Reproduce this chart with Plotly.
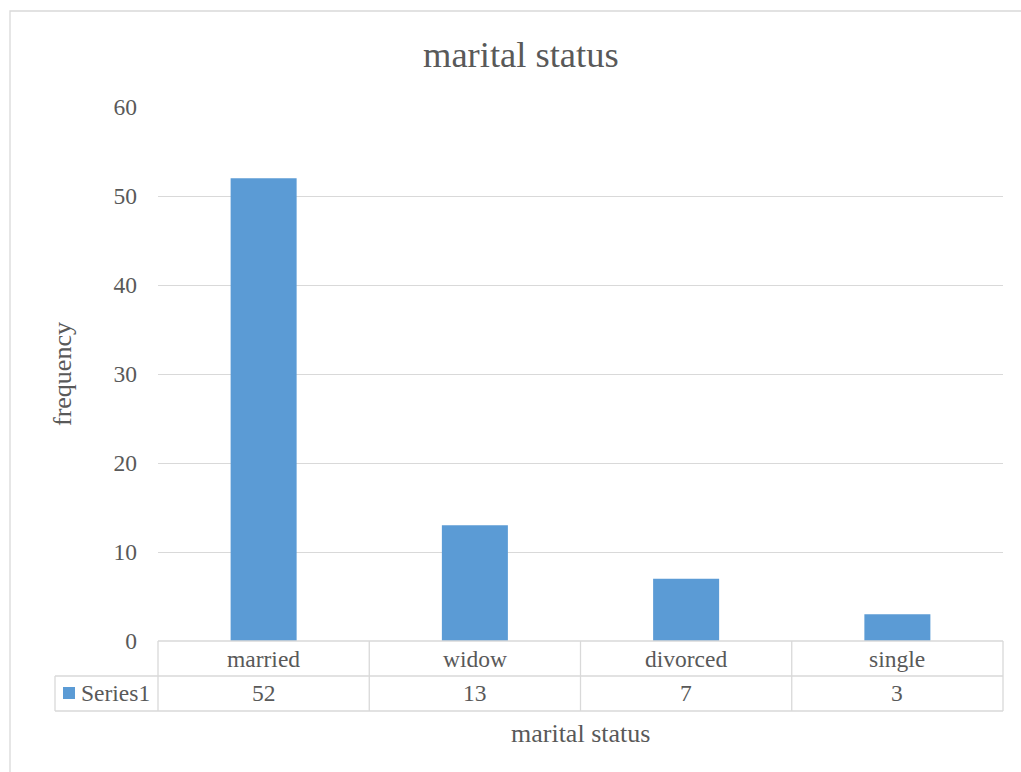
import plotly.graph_objects as go

# Chart data
categories = ["married", "widow", "divorced", "single"]
frequency = [52, 13, 7, 3]
series_name = "Series1"
y_ticks = [0, 10, 20, 30, 40, 50, 60]

# Canvas and plot-area geometry (pixels)
FIG_W, FIG_H = 1021, 772
PL, PR, PT, PB = 158, 1003, 107, 641
PW, PH = PR - PL, PB - PT

BAR_COLOR = "#5b9bd5"
GRID = "#d9d9d9"
TEXT = "#595959"
FONT = "Liberation Serif"


def xp(px):
    return (px - PL) / PW


def yp(py):
    return (PB - py) / PH


fig = go.Figure(
    go.Bar(
        x=categories,
        y=frequency,
        name=series_name,
        marker=dict(color=BAR_COLOR, line=dict(width=0)),
        showlegend=False,
    )
)

shapes = []


def line(x0, y0, x1, y1):
    shapes.append(dict(type="line", xref="paper", yref="paper",
                       x0=xp(x0), y0=yp(y0), x1=xp(x1), y1=yp(y1),
                       line=dict(color=GRID, width=1.3), layer="above"))


# Outer chart border
shapes.append(dict(type="rect", xref="paper", yref="paper",
                   x0=xp(10), y0=yp(11), x1=xp(1040), y1=yp(790),
                   line=dict(color=GRID, width=1.3), layer="below"))

# Data table grid
row1_bottom, row2_bottom = 676, 711
line(PL, PB, PR, PB)
line(55, row1_bottom, PR, row1_bottom)
line(55, row2_bottom, PR, row2_bottom)
line(55, row1_bottom, 55, row2_bottom)
n = len(categories)
for i in range(n + 1):
    x = PL + PW * i / n
    line(x, PB, x, row2_bottom)

# Legend key in the table
shapes.append(dict(type="rect", xref="paper", yref="paper",
                   x0=xp(63), y0=yp(687), x1=xp(75), y1=yp(699),
                   fillcolor=BAR_COLOR, line=dict(width=0), layer="above"))


def label(x, y, text, size, xref="paper", xanchor="center", angle=0):
    return dict(x=x, y=y, xref=xref, yref="paper", text=text,
                showarrow=False, xanchor=xanchor, yanchor="middle",
                textangle=angle,
                font=dict(size=size, color=TEXT, family=FONT))


annotations = []
for cat, val in zip(categories, frequency):
    annotations.append(label(cat, yp(659), cat, 23.5, xref="x"))
    annotations.append(label(cat, yp(693), str(val), 23.5, xref="x"))

annotations.append(label(xp(79), yp(693), series_name, 23.5, xanchor="left"))

# Titles
annotations.append(label(xp(521), yp(55), "marital status", 36.5))
annotations.append(label(xp(580.5), yp(733), "marital status", 26))
annotations.append(label(xp(62), yp(374), "frequency", 26, angle=-90))

fig.update_layout(
    width=FIG_W, height=FIG_H,
    margin=dict(l=PL, r=FIG_W - PR, t=PT, b=FIG_H - PB, autoexpand=False),
    paper_bgcolor="white", plot_bgcolor="white",
    bargap=0.6875,
    xaxis=dict(showticklabels=False, showgrid=False, showline=False,
               zeroline=False, ticks=""),
    yaxis=dict(range=[0, 60], tickvals=y_ticks, showgrid=True, gridcolor=GRID,
               gridwidth=1.3, zeroline=False, showline=False, ticks="",
               ticklabelstandoff=20,
               tickfont=dict(size=23.5, color=TEXT, family=FONT)),
    shapes=shapes,
    annotations=annotations,
)

fig.write_html("out.html")
